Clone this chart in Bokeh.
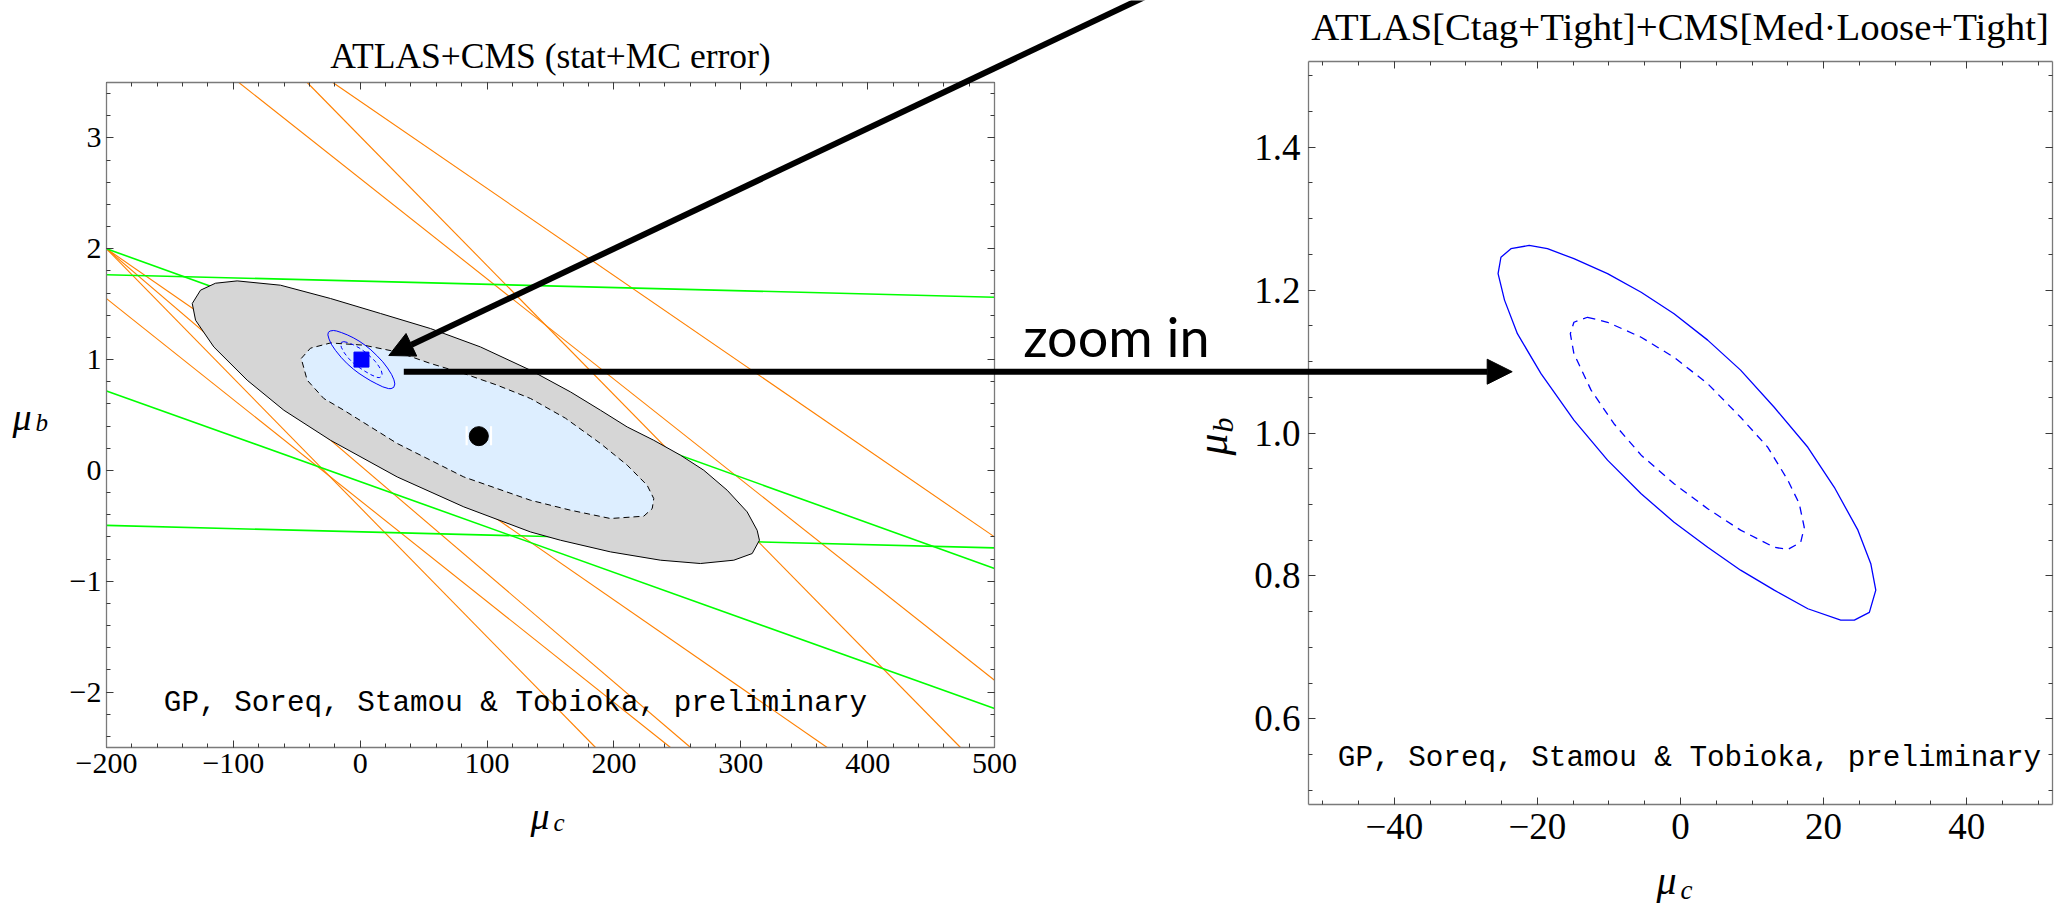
import numpy as np
from bokeh.plotting import figure
from bokeh.models import (Range1d, LinearAxis, FixedTicker, Label, Arrow, NormalHead,
                          ColumnDataSource)
from bokeh.embed import file_html
from bokeh.resources import INLINE

W, H = 2064, 912
SPLIT = 1200

# ---------------- data ----------------
# left panel: straight constraint lines, endpoints in (mu_c, mu_b)
orange_x0 = [-95.7, -41.8, -21.6, -200.0, -200.0, -200.0, -200.0]
orange_y0 = [3.5, 3.5, 3.5, 2.0, 2.0, 1.55, 2.0]
orange_x1 = [500.0, 473.2, 500.0, 368.1, 185.5, 244.6, 260.4]
orange_y1 = [-1.893, -2.5, -0.600, -2.5, -2.5, -2.5, -2.5]

green_x0 = [-200.0, -200.0, -200.0, -200.0]
green_y0 = [1.766, 2.0, 0.717, -0.496]
green_x1 = [500.0, 500.0, 500.0, 500.0]
green_y1 = [1.563, -0.885, -2.148, -0.699]

# ATLAS+CMS combined region (grey, outer) and inner region (light blue)
gray_mu_c = [-97.0, -62.8, -23.4, 16.0, 55.4, 94.8, 134.2, 165.8, 189.4, 210.5, 231.4, 252.5,
             270.8, 289.3, 305.0, 312.9, 314.7, 309.0, 294.5, 268.2, 236.7, 197.3, 157.9,
             134.2, 81.7, 29.2, -23.4, -60.2, -89.1, -115.4, -129.8, -132.4, -125.9, -114.1]
gray_mu_b = [1.710, 1.671, 1.551, 1.416, 1.280, 1.114, 0.904, 0.708, 0.543, 0.392, 0.272, 0.137,
             0.002, -0.179, -0.374, -0.540, -0.630, -0.750, -0.810, -0.840, -0.810, -0.735, -0.630,
             -0.555, -0.329, -0.059, 0.272, 0.543, 0.814, 1.114, 1.355, 1.506, 1.626, 1.689]

lblue_mu_c = [-46.5, -39.2, -23.4, 2.8, 29.2, 55.4, 81.7, 108.0, 134.2, 161.8, 189.4, 210.5,
              226.2, 231.4, 230.2, 223.5, 197.3, 165.8, 134.2, 81.7, 29.2, -12.9, -28.7, -41.8]
lblue_mu_b = [1.010, 1.103, 1.150, 1.130, 1.069, 0.965, 0.874, 0.769, 0.649, 0.471, 0.243, 0.047,
              -0.134, -0.254, -0.344, -0.413, -0.434, -0.359, -0.269, -0.059, 0.243, 0.543, 0.649, 0.814]

# ATLAS[Ctag+Tight]+CMS[Med.Loose+Tight] contours (blue): solid and dashed
bsol_mu_c = [-21.15, -18.6, -14.9, -10.2, -5.5, -0.9, 3.8, 8.4, 13.1, 17.8, 21.5, 24.8, 26.6, 27.3,
             26.4, 24.3, 22.4, 17.8, 13.1, 8.4, 3.8, -0.9, -5.5, -10.2, -14.9, -19.5, -22.8, -24.6,
             -25.5, -25.1, -23.7]
bsol_mu_b = [1.2625, 1.258, 1.244, 1.223, 1.197, 1.167, 1.130, 1.088, 1.036, 0.980, 0.924, 0.864,
             0.817, 0.780, 0.749, 0.738, 0.738, 0.754, 0.780, 0.808, 0.840, 0.875, 0.915, 0.962,
             1.018, 1.083, 1.139, 1.186, 1.223, 1.246, 1.258]

bdash_mu_c = [-13.0, -10.2, -5.5, -0.9, 3.8, 8.4, 12.2, 15.0, 16.6, 17.3, 16.8, 15.0, 13.1, 8.4,
              3.8, -0.9, -5.5, -9.3, -12.5, -14.9, -15.4, -14.9]
bdash_mu_b = [1.162, 1.155, 1.134, 1.106, 1.069, 1.022, 0.980, 0.934, 0.901, 0.868, 0.847, 0.837,
              0.840, 0.864, 0.894, 0.929, 0.969, 1.013, 1.060, 1.111, 1.139, 1.155]

sm_mu_c = [1.0]
sm_mu_b = [1.0]
best_mu_c = [93.5]
best_mu_b = [0.309]
# white end caps beside the best-fit point
best_cap_c = [83.9, 103.1]
best_cap_lo = [0.227, 0.227]
best_cap_hi = [0.399, 0.399]

# ticks
L_x_ticks = [-200, -100, 0, 100, 200, 300, 400, 500]
L_x_labels = ["\u2212200", "\u2212100", "0", "100", "200", "300", "400", "500"]
L_y_ticks = [-2, -1, 0, 1, 2, 3]
L_y_labels = ["\u22122", "\u22121", "0", "1", "2", "3"]
R_x_ticks = [-40, -20, 0, 20, 40]
R_x_labels = ["\u221240", "\u221220", "0", "20", "40"]
R_y_ticks = [0.6, 0.8, 1.0, 1.2, 1.4]
R_y_labels = ["0.6", "0.8", "1.0", "1.2", "1.4"]

credit = "GP, Soreq, Stamou & Tobioka, preliminary"

# ---------------- styling ----------------
FRAME_C = "#7a7a7a"
TICK_C = "#3a3a3a"
SERIF = "Liberation Serif"
ORANGE = "#ff8000"
GREEN = "#00ff00"
GREY = "#d6d6d6"
LBLUE = "#ddeeff"
BLUE = "#0000ff"


def abs_pos(left, z):
    return {"position": "absolute", "left": f"{left}px", "top": "0px", "z-index": str(z)}


def style_axis(ax, size, standoff, labels):
    ax.axis_line_color = FRAME_C
    ax.axis_line_width = 1.3
    ax.major_tick_line_color = TICK_C
    ax.minor_tick_line_color = TICK_C
    ax.major_tick_in = 7
    ax.major_tick_out = 0
    ax.minor_tick_in = 4
    ax.minor_tick_out = 0
    ax.major_label_text_font = SERIF
    ax.major_label_text_font_size = size
    ax.major_label_text_color = "black"
    ax.major_label_standoff = standoff
    ax.major_label_overrides = labels


def frame_axes(p, xt, yt, xl, yl, size, xs, ys):
    xlab = {float(t): s for t, s in zip(xt.ticks, xl)}
    ylab = {float(t): s for t, s in zip(yt.ticks, yl)}
    for loc in ("below", "above"):
        ax = LinearAxis(ticker=xt)
        style_axis(ax, size, xs if loc == "below" else 0,
                   xlab if loc == "below" else {k: "" for k in xlab})
        p.add_layout(ax, loc)
    for loc in ("left", "right"):
        ax = LinearAxis(ticker=yt)
        style_axis(ax, size, ys if loc == "left" else 0,
                   ylab if loc == "left" else {k: "" for k in ylab})
        p.add_layout(ax, loc)


# ---------------- left panel ----------------
pl = figure(width=SPLIT, height=H, x_range=Range1d(-200, 500), y_range=Range1d(-2.5, 3.5),
            output_backend="svg", toolbar_location=None,
            x_axis_location=None, y_axis_location=None,
            min_border_left=106, min_border_right=SPLIT - 994,
            min_border_top=82, min_border_bottom=H - 747,
            outline_line_color=None, styles=abs_pos(0, 1))
pl.xgrid.visible = False
pl.ygrid.visible = False

lx_t = FixedTicker(ticks=L_x_ticks, minor_ticks=list(np.arange(-200, 501, 20)))
ly_t = FixedTicker(ticks=L_y_ticks, minor_ticks=list(np.round(np.arange(-2.4, 3.41, 0.2), 2)))
frame_axes(pl, lx_t, ly_t, L_x_labels, L_y_labels, "30px", 6, 5)

pl.segment(x0="x0", y0="y0", x1="x1", y1="y1",
           source=ColumnDataSource(dict(x0=orange_x0, y0=orange_y0, x1=orange_x1, y1=orange_y1)),
           line_color=ORANGE, line_width=1.1)
pl.segment(x0="x0", y0="y0", x1="x1", y1="y1",
           source=ColumnDataSource(dict(x0=green_x0, y0=green_y0, x1=green_x1, y1=green_y1)),
           line_color=GREEN, line_width=1.6)
pl.patch(gray_mu_c, gray_mu_b, fill_color=GREY, line_color="black", line_width=1)
pl.patch(lblue_mu_c, lblue_mu_b, fill_color=LBLUE, line_color="black", line_width=1,
         line_dash="6 4")
pl.patch(bsol_mu_c, bsol_mu_b, fill_color=None, line_color=BLUE, line_width=1)
pl.patch(bdash_mu_c, bdash_mu_b, fill_color=None, line_color=BLUE, line_width=1, line_dash="4 3")
pl.scatter(sm_mu_c, sm_mu_b, marker="square", size=15, fill_color=BLUE, line_color=BLUE)
pl.segment(x0=best_cap_c, y0=best_cap_lo, x1=best_cap_c, y1=best_cap_hi,
           line_color="white", line_width=2.2)
pl.scatter(best_mu_c, best_mu_b, marker="circle", size=19, fill_color="black", line_color="black")
pl.add_layout(Label(x=-154.8, y=-2.100, text=credit, text_font="Liberation Mono",
                    text_font_size="29.3px", text_baseline="alphabetic", text_color="black"))

# ---------------- right panel ----------------
RW = W - SPLIT
pr = figure(width=RW, height=H, x_range=Range1d(-52, 52), y_range=Range1d(0.48, 1.52),
            output_backend="svg", toolbar_location=None,
            x_axis_location=None, y_axis_location=None,
            min_border_left=108, min_border_right=RW - 108 - 744,
            min_border_top=61, min_border_bottom=H - 804,
            outline_line_color=None, styles=abs_pos(SPLIT, 1))
pr.xgrid.visible = False
pr.ygrid.visible = False
rx_t = FixedTicker(ticks=R_x_ticks, minor_ticks=list(np.arange(-50, 51, 5)))
ry_t = FixedTicker(ticks=R_y_ticks, minor_ticks=list(np.round(np.arange(0.5, 1.51, 0.05), 2)))
frame_axes(pr, rx_t, ry_t, R_x_labels, R_y_labels, "37px", 9, 8)

pr.patch(bsol_mu_c, bsol_mu_b, fill_color=None, line_color=BLUE, line_width=1.3)
pr.patch(bdash_mu_c, bdash_mu_b, fill_color=None, line_color=BLUE, line_width=1.3, line_dash="8 6")
pr.add_layout(Label(x=-47.9, y=0.545, text=credit, text_font="Liberation Mono",
                    text_font_size="29.3px", text_baseline="alphabetic", text_color="black"))

# ---------------- overlay: titles, axis names, arrows ----------------
ov = figure(width=W, height=H, x_range=Range1d(0, W), y_range=Range1d(0, H),
            output_backend="svg", toolbar_location=None,
            x_axis_location=None, y_axis_location=None, min_border=0,
            outline_line_color=None, background_fill_alpha=0, border_fill_alpha=0,
            styles=abs_pos(0, 5))
ov.xgrid.visible = False
ov.ygrid.visible = False


def lab(x, y, text, size, font=SERIF, style="normal", align="left", angle=0.0):
    ov.add_layout(Label(x=x, y=H - y, text=text, text_font=font, text_font_size=f"{size}px",
                        text_font_style=style, text_align=align, text_baseline="alphabetic",
                        angle=angle, text_color="black"))


lab(550, 55, "ATLAS+CMS (stat+MC error)", 35.5, align="center")
lab(1679.6, 26, "ATLAS[Ctag+Tight]+CMS[Med\u00b7Loose+Tight]", 38.8, align="center")
# left axis names
lab(12, 416, "\u03bc", 38, style="italic")
lab(35, 422, "b", 25, style="italic")
lab(530, 815, "\u03bc", 38, style="italic")
lab(553, 822, "c", 25, style="italic")
# right axis names
lab(1212, 455, "\u03bc", 44, style="italic", angle=np.pi / 2)
lab(1221.5, 432, "b", 30, style="italic", angle=np.pi / 2)
lab(1656, 880, "\u03bc", 40, style="italic")
lab(1680, 889, "c", 27, style="italic")
# zoom text
lab(1022.7, 336, "zoom in", 54, font="Lato")

ov.add_layout(Arrow(end=NormalHead(size=25, fill_color="black", line_color="black"),
                    x_start=1179, y_start=H + 20, x_end=388.3, y_end=H - 355,
                    line_color="black", line_width=6))
ov.add_layout(Arrow(end=NormalHead(size=25, fill_color="black", line_color="black"),
                    x_start=403.3, y_start=H - 371.2, x_end=1511.7, y_end=H - 371.2,
                    line_color="black", line_width=6))

open("out.html", "w").write(file_html([pl, pr, ov], INLINE))
